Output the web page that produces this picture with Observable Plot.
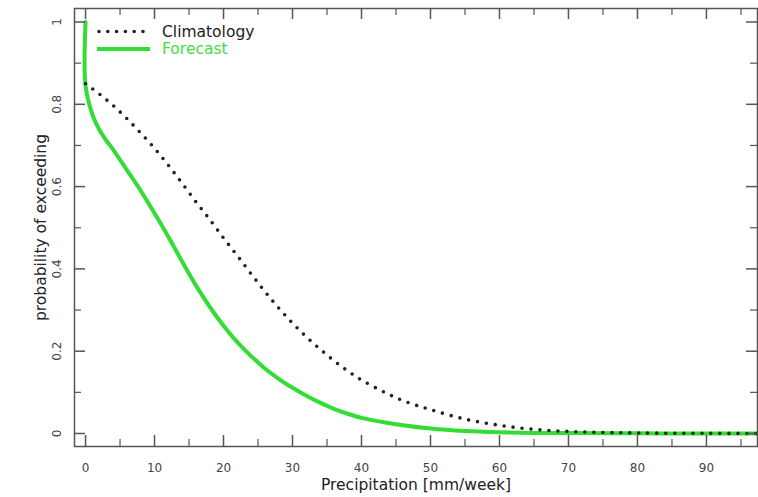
<!DOCTYPE html>
<html><head><meta charset="utf-8">
<script src="https://cdn.jsdelivr.net/npm/d3@7"></script>
<script src="https://cdn.jsdelivr.net/npm/@observablehq/plot@0.6"></script>
<style>body{margin:0;background:#fff} svg{display:block}</style>
</head><body><div id="chart"></div>
<script>
// Forecast exceedance curve
const forecastX = [0, 0, 1, 2, 3, 4, 6, 8, 10, 12, 14, 16, 18, 20, 22, 24, 26, 28, 30, 32, 34, 36, 38, 40, 43, 46, 50, 55, 60, 65, 70, 80, 90, 98];
const forecastP = [1.0, 0.845, 0.775, 0.738, 0.712, 0.69, 0.64, 0.59, 0.535, 0.478, 0.418, 0.36, 0.308, 0.262, 0.222, 0.188, 0.158, 0.133, 0.111, 0.092, 0.075, 0.06, 0.048, 0.038, 0.028, 0.02, 0.012, 0.006, 0.003, 0.0015, 0.001, 0.0003, 0.0001, 0];
// Climatology exceedance curve
const climX = [0, 2, 4, 6, 8, 10, 12, 14, 16, 18, 20, 22, 24, 26, 28, 30, 32, 34, 36, 38, 40, 43, 46, 50, 55, 60, 65, 70, 75, 80, 90, 98];
const climP = [0.85, 0.825, 0.797, 0.765, 0.73, 0.693, 0.652, 0.608, 0.563, 0.52, 0.475, 0.432, 0.388, 0.345, 0.305, 0.268, 0.235, 0.205, 0.177, 0.152, 0.13, 0.103, 0.08, 0.058, 0.035, 0.02, 0.01, 0.005, 0.0025, 0.0012, 0.0004, 0.0001];
// Axis ticks
const xMajor = [0, 10, 20, 30, 40, 50, 60, 70, 80, 90];
const xMinor = [5, 15, 25, 35, 45, 55, 65, 75, 85, 95];
const yMajor = [0, 0.2, 0.4, 0.6, 0.8, 1];
const yMinor = [0.1, 0.3, 0.5, 0.7, 0.9];
const yLabels = ["0", "0.2", "0.4", "0.6", "0.8", "1"];
const xTitle = "Precipitation [mm/week]";
const yTitle = "probability of exceeding";
const seriesNames = ["Climatology", "Forecast"];

const forecast = forecastX.map((x, i) => ({x, p: forecastP[i]}));
const clim = climX.map((x, i) => ({x, p: climP[i]}));

const W = 758, H = 497, mL = 74, mR = 1, mT = 8, mB = 51;
const fw = W - mL - mR, fh = H - mT - mB;
const axisColor = "#555", green = "#33dd33";
const major = 11, minor = 7;

const chart = Plot.plot({
  width: W, height: H,
  marginLeft: mL, marginRight: mR, marginTop: mT, marginBottom: mB,
  x: {domain: [-1.6, 97.4], axis: null},
  y: {domain: [-0.0316, 1.0328], axis: null},
  style: {fontFamily: "DejaVu Sans, sans-serif", background: "#fff"},
  marks: [
    Plot.line(forecast, {x: "x", y: "p", stroke: green, strokeWidth: 4, curve: "catmull-rom", clip: true}),
    Plot.line(clim, {x: "x", y: "p", stroke: "#222", strokeWidth: 3.6, strokeDasharray: "0,9", strokeLinecap: "round", curve: "catmull-rom", clip: true}),
    Plot.frame({stroke: axisColor, strokeWidth: 1.5}),
    Plot.tickX(xMajor, {x: d => d, insetTop: fh - major, stroke: axisColor, strokeWidth: 1.5}),
    Plot.tickX(xMinor, {x: d => d, insetTop: fh - minor, stroke: axisColor, strokeWidth: 1.2}),
    Plot.tickX(xMajor, {x: d => d, insetBottom: fh - major, stroke: axisColor, strokeWidth: 1.5}),
    Plot.tickX(xMinor, {x: d => d, insetBottom: fh - minor, stroke: axisColor, strokeWidth: 1.2}),
    Plot.tickY(yMajor, {y: d => d, insetRight: fw - major, stroke: axisColor, strokeWidth: 1.5}),
    Plot.tickY(yMinor, {y: d => d, insetRight: fw - minor, stroke: axisColor, strokeWidth: 1.2}),
    Plot.tickY(yMajor, {y: d => d, insetLeft: fw - major, stroke: axisColor, strokeWidth: 1.5}),
    Plot.tickY(yMinor, {y: d => d, insetLeft: fw - minor, stroke: axisColor, strokeWidth: 1.2}),
    Plot.text(xMajor, {x: d => d, frameAnchor: "bottom", dy: 22, lineAnchor: "middle", textAnchor: "middle", text: d => String(d), fontSize: 12, fill: "#444"}),
    Plot.text(yMajor, {y: d => d, frameAnchor: "left", dx: -17, rotate: -90, lineAnchor: "middle", textAnchor: "middle", text: (d, i) => yLabels[i], fontSize: 12, fill: "#444"}),
    Plot.text([xTitle], {frameAnchor: "bottom", dy: 39, lineAnchor: "middle", textAnchor: "middle", text: d => d, fontSize: 15.5, fill: "#222"}),
    Plot.text([yTitle], {frameAnchor: "left", dx: -33, rotate: -90, lineAnchor: "middle", textAnchor: "middle", text: d => d, fontSize: 15.5, fill: "#222"})
  ]
});
document.getElementById("chart").appendChild(chart);

// Legend inside plot area (top-left)
const svg = d3.select(chart);
const lg = svg.append("g").attr("font-family", "DejaVu Sans, sans-serif").attr("font-size", 15.5).attr("text-anchor", "start");
lg.append("line").attr("x1", 99).attr("x2", 146).attr("y1", 31.5).attr("y2", 31.5)
  .attr("stroke", "#222").attr("stroke-width", 3.6).attr("stroke-dasharray", "0,8.8").attr("stroke-linecap", "round");
lg.append("text").attr("x", 162).attr("y", 32).attr("dy", "0.35em").attr("fill", "#222").text(seriesNames[0]);
lg.append("line").attr("x1", 97).attr("x2", 150).attr("y1", 49).attr("y2", 49)
  .attr("stroke", green).attr("stroke-width", 4);
lg.append("text").attr("x", 162).attr("y", 49).attr("dy", "0.35em").attr("fill", "#44dd44").text(seriesNames[1]);
</script>
</body></html>
